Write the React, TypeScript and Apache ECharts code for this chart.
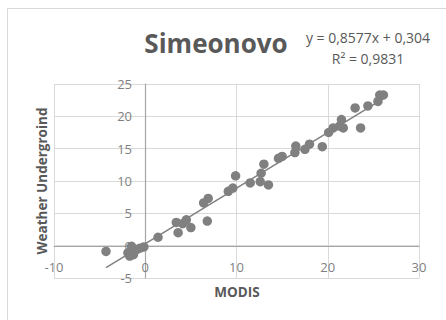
import React, { useEffect, useRef } from "react";
import * as echarts from "echarts";

const modisX = [
  -4.3, -1.5, -1.9, -1.3, -0.95, -0.6, -0.15, -1.7, 1.4, 3.4, 3.6, 4.1, 4.5, 5.0,
  6.8, 6.4, 6.9, 9.1, 9.6, 9.9, 11.5, 12.6, 12.7, 13.0, 13.5, 14.6, 15.0, 16.4,
  16.5, 17.5, 18.0, 19.4, 20.1, 20.6, 21.3, 21.5, 21.7, 23.0, 23.6, 24.4, 25.5,
  25.7, 26.1,
];
const weatherY = [
  -0.9, -0.1, -1.1, -1.4, -0.6, -0.4, -0.2, -1.6, 1.3, 3.6, 2.0, 3.4, 4.0, 2.8,
  3.8, 6.6, 7.3, 8.4, 8.9, 10.8, 9.7, 9.9, 11.2, 12.6, 9.4, 13.5, 13.8, 14.4,
  15.4, 14.9, 15.7, 15.3, 17.5, 18.2, 18.5, 19.5, 18.2, 21.3, 18.2, 21.6, 22.3,
  23.3, 23.3,
];
const trendX = [-4.3, 26.2];
const trendY = [-3.4, 22.8];

const titleText = "Simeonovo";
const equationText = "y = 0,8577x + 0,304";
const r2Text = "R² = 0,9831";
const xAxisTitle = "MODIS";
const yAxisTitle = "Weather Undergroind";

export default function App() {
  const ref = useRef<HTMLDivElement>(null);
  useEffect(() => {
    if (!ref.current) return;
    const chart = echarts.init(ref.current, null, { renderer: "svg" });
    const font = "'Open Sans', 'Noto Sans', sans-serif";
    const grey = "#595959";
    chart.setOption({
      animation: false,
      backgroundColor: "#ffffff",
      grid: { left: 54, right: 27, top: 84, bottom: 42, containLabel: false },
      xAxis: {
        type: "value",
        min: -10,
        max: 30,
        interval: 10,
        offset: -32,
        axisLine: { show: true, onZero: false, lineStyle: { color: "#a6a6a6", width: 1.2 } },
        axisTick: { show: false },
        axisLabel: { color: "#7f7f7f", fontSize: 13, fontFamily: font, margin: 14 },
        splitLine: { show: true, lineStyle: { color: "#d9d9d9", width: 1 } },
      },
      yAxis: {
        type: "value",
        min: -5,
        max: 25,
        interval: 5,
        offset: -91,
        axisLine: { show: true, onZero: false, lineStyle: { color: "#a6a6a6", width: 1.2 } },
        axisTick: { show: false },
        axisLabel: { color: "#7f7f7f", fontSize: 13, fontFamily: font, margin: 13 },
        splitLine: { show: true, lineStyle: { color: "#d9d9d9", width: 1 } },
      },
      series: [
        {
          type: "line",
          data: trendX.map((x, i) => [x, trendY[i]]),
          showSymbol: false,
          symbol: "none",
          lineStyle: { color: "#808080", width: 1.5 },
          z: 3,
        },
        {
          type: "scatter",
          data: modisX.map((x, i) => [x, weatherY[i]]),
          symbol: "circle",
          symbolSize: 9.5,
          itemStyle: { color: "#808080", opacity: 1 },
          z: 4,
        },
      ],
      graphic: [
        {
          type: "rect",
          shape: { x: 7.5, y: 8.5, width: 460, height: 340 },
          style: { fill: "none", stroke: "#d9d9d9", lineWidth: 1 },
          silent: true,
        },
        {
          type: "text",
          x: 216,
          y: 43,
          style: {
            text: titleText,
            font: `bold 26px ${font}`,
            fill: grey,
            align: "center",
            verticalAlign: "middle",
          },
        },
        {
          type: "text",
          x: 368,
          y: 37,
          style: {
            text: equationText,
            font: `14px ${font}`,
            fill: grey,
            align: "center",
            verticalAlign: "middle",
          },
        },
        {
          type: "text",
          x: 368,
          y: 58,
          style: {
            text: r2Text,
            font: `14px ${font}`,
            fill: grey,
            align: "center",
            verticalAlign: "middle",
          },
        },
        {
          type: "text",
          x: 237,
          y: 292,
          style: {
            text: xAxisTitle,
            font: `bold 13.5px ${font}`,
            fill: grey,
            align: "center",
            verticalAlign: "middle",
          },
        },
        {
          type: "text",
          x: 42,
          y: 181,
          rotation: Math.PI / 2,
          style: {
            text: yAxisTitle,
            font: `bold 13.5px ${font}`,
            fill: grey,
            align: "center",
            verticalAlign: "middle",
          },
        },
      ],
    });
    return () => chart.dispose();
  }, []);
  return (
    <div
      ref={ref}
      style={{ position: "fixed", left: 0, top: 0, width: 446, height: 320 }}
    />
  );
}
